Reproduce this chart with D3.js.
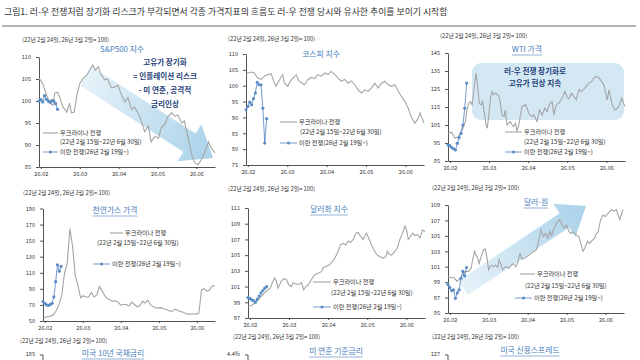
<!DOCTYPE html>
<html><head><meta charset="utf-8">
<script src="https://cdn.jsdelivr.net/npm/d3@7"></script>
<style>
body{margin:0;background:#fff}
svg{display:block}
text{font-family:"Noto Sans CJK KR","Noto Sans",sans-serif}
</style></head>
<body><svg id="c" width="640" height="360"></svg>
<script>
// ---------------- DATA ----------------
const headerText = "그림1.  러-우 전쟁처럼 장기화 리스크가 부각되면서 각종 가격지표의 흐름도 러-우 전쟁 당시와 유사한 추이를 보이기 시작함";
const subText = "(22년 2월 24일, 26년 3월 2일= 100)";
const legendGray = "우크라이나 전쟁";
const legendGrayPeriod = "(22년 2월 15일~22년 6월 30일)";
const legendBlue = "이란 전쟁(26년 2월 19일~)";
const monthTickDays = [1, 22, 43, 64, 85];
const monthLabels = ["26.02", "26.03", "26.04", "26.05", "26.06"];

// S&P500
const spDays = [0,2,4,6,7.5,8.5,10,11,13,15,16.5,17.5,19,20.5,22,24,26,28,29,30.5,32,33.5,35.5,37,39,41,42.5,44.5,46.5,48,50,51.5,53.5,55.5,57,59,60.5,62.5,64.5,66,68,69.5,71.5,73.5,75,77,78.5,80.5,82.5,84,86,88,89.5,91.5,93,95];
const spGray = [105.2,104,101.4,99.5,99,101.8,102,101,98.6,97.5,99.5,97.3,97.5,101.4,104,105.2,106,107.5,108.2,107,107.8,106,104.8,105,103,103.2,103.6,101.4,99.8,100.8,98,98.6,97.3,95.2,93,94.3,90.7,92,91.5,93.9,94.8,96.4,97.3,96.5,96.8,95,95.5,91.6,87.7,86,85.5,87,88.5,90.7,89.3,88.2];
const spBlue = [100,100.3,99.8,101.2,100.4,100,99.7,100.1,100,99.4,98.1];
const spTicks = [85,90,95,100,105,110];

// KOSPI
const kDays = [0,1,2.7,4.5,6.2,8,9.8,11.6,13.4,14.3,15.2,16,17.9,19.6,20.5,22.3,23.6,25,26.8,28.2,29.5,31.2,33,34.8,36.6,38.4,40.2,42,43.8,45.5,47.3,49.1,50.9,52.7,54.5,56.3,58,59.8,61.6,63.4,65.2,67,68.8,70.5,72.3,74.1,75.9,77.7,79.5,81.3,83,84.8,86.6,88.4,90.2,92,92.9,93.8,95];
const kGray = [103.5,104,104.3,104,102.4,102,103,103.5,103.7,102.4,100.8,99.8,101.9,103.5,100.8,99.8,101.4,102.4,103.5,101.5,101,100.3,101.9,102.6,102.3,103.5,103,104,103.5,104.5,103.6,102.4,101.4,102,100.8,101.5,100.3,98.7,97.7,98.7,98.2,99.3,100.8,99.3,100.8,101.4,100.3,99.8,100.3,98.2,96.6,95,92.9,89.8,88.2,89.8,91.4,90,88.2];
const kBlue = [92.4,93.5,94.8,94,95.9,97.7,101.1,100.3,100.3,92.9,81.9,89.6];
const kTicks = [75,80,85,90,95,100,105,110];

// WTI
const wtiDays = [0,1.8,3.9,5.4,6.6,7.9,9.3,10.2,11.1,12,12.9,13.8,15.1,16.1,16.8,17.9,18.6,19.7,20.4,21.1,21.9,22.9,23.7,24.6,25.4,27.2,28.1,29,30.1,30.8,31.7,32.6,33.5,34.4,35.3,36.2,37.1,38,38.9,39.8,41.6,42.5,43.4,44.8,46.1,47.8,49.1,50.5,52,53.2,54.5,55.9,56.8,58.1,59.5,61.3,62.7,63.8,64.9,66.3,67.6,68.8,70.3,71.7,72.9,74.2,75.6,77.1,78.3,79.6,81,82.4,83.7,84.6,85.5,86.4,87.3,88.2,89.6,90.9,92.1,93.2,93.9,95];
const wtiGray = [100.4,101,97.6,98.5,100.4,102.8,106.9,113.4,117.1,118,116.2,123.6,133.8,124.6,117.1,116.2,118,110.6,105,103.2,110.6,120.8,123.6,121.8,122.7,121.4,117.1,110.6,109.7,113.4,105,106,106.9,105,104.1,106,101.3,105,110.6,115.3,116.2,114.3,111.5,109.7,110.6,106.9,113.4,110.6,114.3,112.4,116.6,118,110.6,116.2,117.1,120,123.6,120.8,119.5,122.7,120.8,118.9,124.6,123.6,125,126.4,128.3,129.2,131.1,132,131.1,129.2,127.3,122.7,119,124.6,120,116.2,113.4,114.3,116.2,120,118,115.3];
const wtiBlue = [93.9,93.5,92.4,91.8,91.1,94.8,98,100.4,105,114.3,128.3];
const wtiTicks = [85,95,105,115,125,135,145];

// Natural gas (evenly sampled readings)
const gasGray = [53,54.6,55.6,56.4,58,63.4,71,82.5,109.5,121,165,143,107,94,79,81.5,79.5,80,85.5,80,82.5,92.8,87.5,81.5,77.5,76,74.4,75.2,73,69.7,70.5,70.5,68.5,73.5,70.8,67.6,69.3,74.5,72.4,76,70,68,66.3,66.3,66.6,65,64.4,62.5,62.3,64.6,63.7,61.8,61.1,59.4,58.6,58.8,59,58.6,59.8,89,90.2,86.9,88.6,93.8,93.6];
const gasBlue = [74,72,70,69.5,70.5,72,80,99,120,112,118];
const gasTicks = [50,70,90,110,130,150,170,190];

// Dollar index
const dxDays = [0,1.8,3.6,5.4,7.2,9,10.8,12,13.1,14.3,15.2,16.1,17.9,19.2,20.6,22,23.3,24.2,26,27.4,28.7,29.9,31,32.3,34.1,35.8,37.6,39.4,40.3,42.1,43.9,45.3,46.6,48.4,49.6,51.1,52.5,53.8,55,56.5,57.9,59.1,60.4,61.8,62.7,63.6,65.1,66.3,67.6,69,70.8,72.6,74,74.7,75.8,77.1,78.9,80.1,81.5,83,84.2,85.1,86,87.3,88.4,89.6,90.9,92.3,93.7,95];
const dxGray = [98.5,98.6,98.9,99.3,99.8,100.2,100.6,100.8,101.5,102.1,101.7,100.8,101.7,102,101.9,101.2,101,101.5,101.3,101.3,101.5,100.6,101,101.2,101.9,102.5,102.7,102.9,103.4,103.6,103.8,104.2,104.6,105.5,106.3,106.5,106.3,106.8,106.6,107,107.8,107.9,107.4,107,107.4,107.8,107,106.3,105.7,105.1,104.8,104.6,104.8,105.5,105.1,105,105.5,105.9,107,107.8,108.7,108.2,107,107.4,107.8,107.5,107.6,107.2,108.2,108];
const dxBlue = [99.6,99.5,99.3,99.2,99.0,99.4,99.8,100.2,100.5,100.8,101.0];
const dxTicks = [97,99,101,103,105,107,109,111];

// USD-KRW
const wonDays = [0,1.8,3.6,4.8,6.6,7.5,9.3,11.1,12.5,13.3,14.3,15.1,16.1,16.8,17.9,19.2,20.1,21,21.9,22.8,23.7,24.6,25.8,26.9,27.6,28.7,29.4,30.5,31.7,33,34,35.3,36.6,37.6,38.9,39.8,41.2,42.5,43.7,45.2,46.6,47.8,49.1,50.2,51.4,52.7,53.8,55,55.9,57.3,58.6,59.9,60.9,61.6,62.7,64,65.2,66.3,67.6,69.4,70.6,71.7,72.9,73.8,75.3,76.5,77.8,79.2,80.1,81,82.4,83.7,84.9,86.4,88.2,89.6,90.9,91.8,92.7,93.5,94.4];
const wonGray = [99.7,99.6,99.5,99.1,99.5,99.8,100.4,100.4,100.8,101.9,103,102.5,102.1,101.4,102.3,103.2,103.3,102.2,100.6,101,101.2,101,101.2,100.9,101.9,101.2,100.6,100.9,101,100.8,101.2,101.4,101,101.5,102.8,102,102.1,102.3,102.5,102.8,103,103.2,104.5,105.8,104.9,105.3,104.7,105.6,105,106,106.6,107.1,106.8,106.4,106,106.4,105.6,105.3,105.5,105.1,104.9,104,103,103.4,104.3,104,104.4,104.7,105.3,105.5,107.1,107.7,107.5,107.9,108.4,108.2,108.4,107.7,107.1,107.7,108.4];
const wonBlue = [98.7,98.3,97.9,98,96.9,97.6,98,99.5,100.4,99.8,100.9];
const wonTicks = [95,97,99,101,103,105,107,109];

// ---------------- DRAW ----------------
const svg = d3.select('#c');
const GRAY = '#a5a5a5', BLUE = '#4f81bd', TITLE = '#4a7ebb', NAVY = '#1f3f7a', AX = '#404040', TXT = '#333';

svg.append('text').attr('x', 4).attr('y', 13).attr('dominant-baseline', 'middle')
  .attr('font-size', 8.9).attr('fill', TXT).text(headerText);
svg.append('line').attr('x1', 2).attr('x2', 636).attr('y1', 26).attr('y2', 26)
  .attr('stroke', '#9a9a9a').attr('stroke-width', 1.5);

const defs = svg.append('defs');

function arrow(id, T, P, w, hl, hw) {
  const dx = P[0] - T[0], dy = P[1] - T[1], L = Math.hypot(dx, dy);
  const ux = dx / L, uy = dy / L, nx = -uy, ny = ux;
  const B = [P[0] - ux * hl, P[1] - uy * hl];
  const pts = [[T[0] + nx * w, T[1] + ny * w], [B[0] + nx * w, B[1] + ny * w], [B[0] + nx * hw, B[1] + ny * hw], P,
    [B[0] - nx * hw, B[1] - ny * hw], [B[0] - nx * w, B[1] - ny * w], [T[0] - nx * w, T[1] - ny * w]];
  const gr = defs.append('linearGradient').attr('id', id).attr('gradientUnits', 'userSpaceOnUse')
    .attr('x1', T[0]).attr('y1', T[1]).attr('x2', P[0]).attr('y2', P[1]);
  gr.append('stop').attr('offset', 0).attr('stop-color', '#e6f2f9');
  gr.append('stop').attr('offset', 1).attr('stop-color', '#a9d2e9');
  svg.append('path').attr('d', 'M' + pts.map(p => p.join(',')).join('L') + 'Z').attr('fill', `url(#${id})`);
}

function txt(x, y, s, size, fill, anchor, weight) {
  return svg.append('text').attr('x', x).attr('y', y).attr('dominant-baseline', 'middle')
    .attr('text-anchor', anchor || 'start').attr('font-size', size).attr('fill', fill)
    .attr('font-weight', weight || 'normal').text(s);
}

function title(cx, cy, s, underline) {
  const t = txt(cx, cy, s, 7.8, TITLE, 'middle');
  if (underline) {
    const w = t.node().getComputedTextLength();
    svg.append('line').attr('x1', cx - w / 2).attr('x2', cx + w / 2).attr('y1', cy + 5).attr('y2', cy + 5)
      .attr('stroke', TITLE).attr('stroke-width', 0.6);
  }
}

function panel(p) {
  const x = d3.scaleLinear().domain([0, 95]).range([p.ax, p.right]);
  const y = d3.scaleLinear().domain([p.ticks[0], p.ticks[p.ticks.length - 1]]).range([p.bot, p.top]);
  const g = svg.append('g');
  const ya = g.append('g').attr('transform', `translate(${p.ax},0)`)
    .call(d3.axisLeft(y).tickValues(p.ticks).tickSize(3).tickSizeOuter(0).tickPadding(5));
  const xa = g.append('g').attr('transform', `translate(0,${p.bot})`)
    .call(d3.axisBottom(x).tickValues(monthTickDays).tickSize(2).tickSizeOuter(0).tickPadding(3)
      .tickFormat((d, i) => monthLabels[i]));
  [ya, xa].forEach(a => {
    a.selectAll('path,line').attr('stroke', AX).attr('stroke-width', 0.9);
    a.selectAll('text').attr('font-size', 5.6).attr('fill', TXT);
  });
  const days = p.days || p.gray.map((d, i) => i * 95 / (p.gray.length - 1));
  g.append('path').datum(p.gray)
    .attr('d', d3.line().x((d, i) => x(days[i])).y(d => y(d)))
    .attr('fill', 'none').attr('stroke', GRAY).attr('stroke-width', 1.1);
  g.append('path').datum(p.blue)
    .attr('d', d3.line().x((d, i) => x(i)).y(d => y(d)))
    .attr('fill', 'none').attr('stroke', BLUE).attr('stroke-width', 0.8);
  g.selectAll('circle.b').data(p.blue).enter().append('circle')
    .attr('cx', (d, i) => x(i)).attr('cy', d => y(d)).attr('r', 1.6).attr('fill', '#5b8cc6');
  // legend
  const L = p.leg;
  svg.append('line').attr('x1', L.g[0]).attr('x2', L.g[1]).attr('y1', L.g[2]).attr('y2', L.g[2])
    .attr('stroke', GRAY).attr('stroke-width', 1.1);
  txt(L.g[1] + 2, L.g[2], legendGray, 6.2, TXT);
  txt(L.p[0], L.p[1], legendGrayPeriod, 6.2, TXT);
  svg.append('line').attr('x1', L.b[0]).attr('x2', L.b[1]).attr('y1', L.b[2]).attr('y2', L.b[2])
    .attr('stroke', BLUE).attr('stroke-width', 0.8);
  svg.append('circle').attr('cx', (L.b[0] + L.b[1]) / 2).attr('cy', L.b[2]).attr('r', 1.6).attr('fill', '#5b8cc6');
  txt(L.b[1] + 2, L.b[2], legendBlue, 6.2, TXT);
}

// decorations behind lines
arrow('ga1', [86, 76], [213, 158], 11, 28, 22);
arrow('ga2', [463, 288], [586, 206], 8.5, 26, 20);
svg.append('rect').attr('x', 472).attr('y', 63).attr('width', 152).attr('height', 57).attr('rx', 9)
  .attr('fill', '#d3e8f3');

panel({ax: 39, right: 215, top: 57, bot: 167, ticks: spTicks, gray: spGray, days: spDays, blue: spBlue,
  leg: {g: [43, 58, 133], p: [60, 142.5], b: [43, 58, 152]}});
panel({ax: 246, right: 424, top: 54, bot: 165, ticks: kTicks, gray: kGray, days: kDays, blue: kBlue,
  leg: {g: [280, 297, 122], p: [300, 132.5], b: [280, 297, 143]}});
panel({ax: 448, right: 625, top: 53, bot: 161, ticks: wtiTicks, gray: wtiGray, days: wtiDays, blue: wtiBlue,
  leg: {g: [505, 522, 132], p: [524, 142], b: [505, 522, 152]}});
panel({ax: 43, right: 215, top: 208.5, bot: 321, ticks: gasTicks, gray: gasGray, blue: gasBlue,
  leg: {g: [110, 123, 233], p: [97, 243.5], b: [93, 110, 264]}});
panel({ax: 248, right: 425, top: 208, bot: 318, ticks: dxTicks, gray: dxGray, days: dxDays, blue: dxBlue,
  leg: {g: [313, 331, 282], p: [331, 293], b: [313, 331, 307]}});
panel({ax: 448, right: 624, top: 205, bot: 313, ticks: wonTicks, gray: wonGray, days: wonDays, blue: wonBlue,
  leg: {g: [520, 535, 274], p: [525, 286], b: [515, 532, 298]}});

// subtitles
[[22, 40], [228, 39], [440, 36], [23, 193], [228, 189], [432, 188], [20, 341], [233, 337], [432, 337]]
  .forEach(([x, y]) => txt(x, y, subText, 5.8, TXT));

// titles
title(122, 50, "S&P500 지수", false);
title(321, 55, "코스피 지수", false);
title(527, 50, "WTI 가격", true);
title(115, 211, "천연가스 가격", true);
title(329, 210, "달러화 지수", true);
title(536, 203, "달러-원", true);
title(113, 354, "미국 10년 국채금리", true);
title(336, 352, "미 연준 기준금리", true);
title(530, 351, "미국 신용스프레드", true);

// annotations
[["고유가 장기화", 63], ["= 인플레이션 리스크", 77], ["- 미 연준, 공격적", 91], ["금리인상", 105]]
  .forEach(([s, y]) => txt(165, y, s, 7.6, NAVY, 'middle', 'bold'));
[["러-우 전쟁 장기화로", 72], ["고유가 현상 지속", 84]]
  .forEach(([s, y]) => txt(535, y, s, 7.6, NAVY, 'middle', 'bold'));

// third row (cut off)
[[43, "185"], [248, "4.4%"], [448, "127"]].forEach(([ax, s]) => {
  txt(ax - 8, 354, s, 5.6, TXT, 'end');
  svg.append('line').attr('x1', ax).attr('x2', ax).attr('y1', 355).attr('y2', 361).attr('stroke', AX).attr('stroke-width', 0.9);
  svg.append('line').attr('x1', ax - 3).attr('x2', ax).attr('y1', 355).attr('y2', 355).attr('stroke', AX).attr('stroke-width', 0.9);
});
</script></body></html>
